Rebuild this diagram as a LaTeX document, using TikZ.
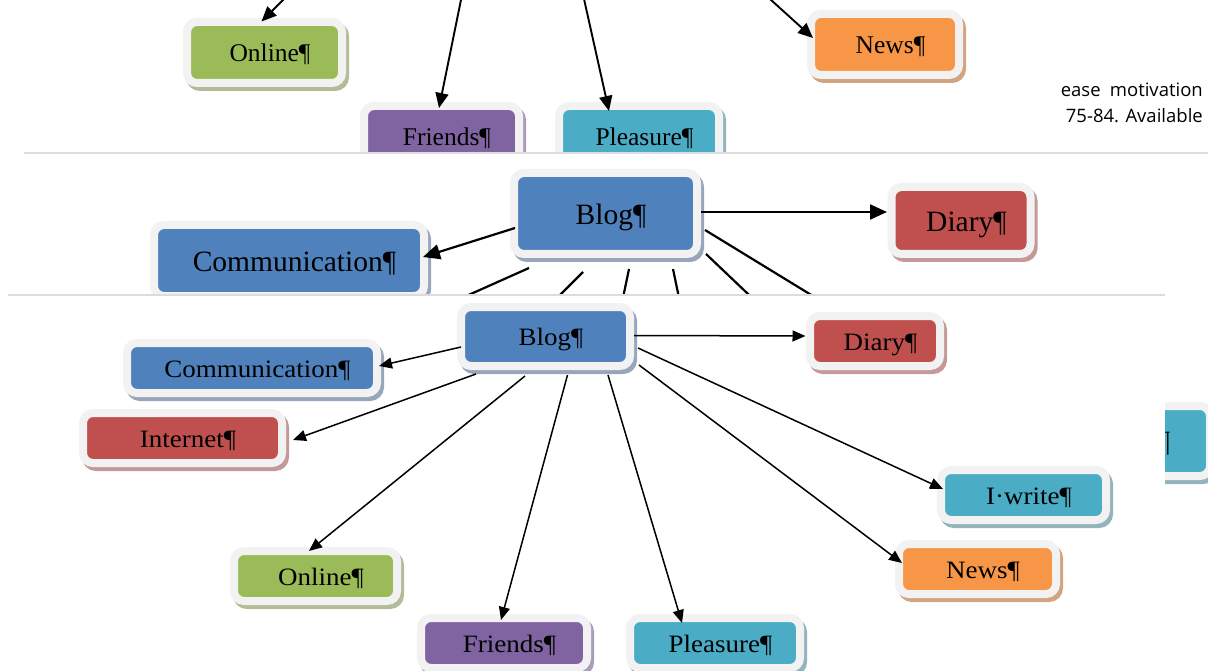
\documentclass[tikz,border=0pt]{standalone}
\usepackage{fontspec}
\setmainfont{Liberation Serif}
\newfontfamily\notefont{Open Sans}
\usetikzlibrary{arrows.meta,calc}
\definecolor{frameg}{HTML}{F2F2F2}
\definecolor{sepg}{HTML}{DCDCDC}
\definecolor{blueF}{HTML}{4F81BD}\definecolor{blueS}{HTML}{97A6BA}
\definecolor{redF}{HTML}{C0504D}\definecolor{redS}{HTML}{C49A99}
\definecolor{greenF}{HTML}{9BBB59}\definecolor{greenS}{HTML}{B2BC98}
\definecolor{purpleF}{HTML}{8064A2}\definecolor{purpleS}{HTML}{A99CB9}
\definecolor{cyanF}{HTML}{4BACC6}\definecolor{cyanS}{HTML}{93B3BD}
\definecolor{orangeF}{HTML}{F79646}\definecolor{orangeS}{HTML}{D3A482}
\newcommand\fa{\fontsize{25.5}{30}\selectfont}
\newcommand\fb{\fontsize{29.5}{34}\selectfont}
\newcommand\fc{\fontsize{25}{29}\selectfont}
\newcommand\wide[1]{\scalebox{1.08}[1]{#1}}
\tikzset{
  wbox/.style n args={4}{draw=frameg, fill=#1, line width=8pt, rounded corners=10pt,
    inner sep=0pt, minimum width=#3, minimum height=#4,
    execute at begin node={\hspace*{11pt}},
    preaction={fill=#2, draw=#2, line width=8pt, rounded corners=10pt,
      transform canvas={shift={(3pt,-4pt)}}}},
  txa/.style={font=\fa, text height=19.6pt, text depth=0.8pt},
  txb/.style={font=\fb, text height=22.6pt, text depth=1pt},
  txc/.style={font=\fc, text height=19.2pt, text depth=0.8pt},
  arra/.style={-{Triangle[length=15pt,width=13pt]}, line width=1.9pt},
  arrb/.style={-{Triangle[length=17pt,width=15pt]}, line width=2.2pt},
  lineb/.style={line width=2.2pt},
  arrc/.style={-{Triangle[length=13pt,width=11pt]}, line width=1.5pt},
  sepline/.style={draw=sepg, line width=2pt},
}
\begin{document}
\begin{tikzpicture}[x=1pt,y=-1pt]
\useasboundingbox (0,0) rectangle (1208,671);
% ---------------- band 1 ----------------
\begin{scope}
\clip (0,0) rectangle (1208,153);
\node[wbox={greenF}{greenS}{155pt}{61pt}, txa] (online1) at (264.5,52.5) {Online¶};
\node[wbox={purpleF}{purpleS}{155pt}{61pt}, txa] (friends1) at (441.5,136.5) {Friends¶};
\node[wbox={cyanF}{cyanS}{160pt}{61pt}, txa] (pleasure1) at (639,136.5) {Pleasure¶};
\node[wbox={orangeF}{orangeS}{148pt}{61pt}, txa] (news1) at (885,44.5) {News¶};
\coordinate (s1) at (293,-10);
\coordinate (s2) at (463,-10);
\coordinate (s3) at (582,-10);
\coordinate (s4) at (760,-10);
\draw[arra] (s1) -- ($(online1)+(-3,-31)$);
\draw[arra] (s2) -- ($(friends1)+(-2.5,-28.5)$);
\draw[arra] (s3) -- ($(pleasure1)+(-30,-25.5)$);
\draw[arra] (s4) -- ($(news1)+(-72,-6.5)$);
\node[anchor=east, inner sep=0pt, font=\notefont\fontsize{18.5}{22}\selectfont] (note1) at (1203,90) {\makebox[142pt][s]{ease motivation}};
\node[anchor=east, inner sep=0pt, font=\notefont\fontsize{18.5}{22}\selectfont] (note2) at (1203,116) {75-84. Available};
\end{scope}
\draw[sepline] (24,153) -- (1208,153);
% ---------------- band 2 ----------------
\begin{scope}
\clip (0,154) rectangle (1208,294);
\node[wbox={blueF}{blueS}{183pt}{81pt}, txb] (blog2) at (605.5,213.5) {Blog¶};
\node[wbox={blueF}{blueS}{270pt}{71pt}, txb] (comm2) at (289,260.5) {Communication¶};
\node[wbox={redF}{redS}{139pt}{67pt}, txb] (diary2) at (961,220.5) {Diary¶};
\draw[arrb] ($(blog2)+(95.5,-1.5)$) -- ($(diary2)+(-74,-8.5)$);
\draw[arrb] ($(blog2)+(-90.5,14.5)$) -- ($(comm2)+(134,-3.5)$);
\coordinate (e1) at (417,318);
\coordinate (e2) at (541,314);
\coordinate (e3) at (619,317);
\coordinate (e4) at (683,317);
\coordinate (e5) at (788,332);
\coordinate (e6) at (911,356);
\draw[lineb] ($(blog2)+(-76.5,54.5)$) -- (e1);
\draw[lineb] ($(blog2)+(-22.5,58.5)$) -- (e2);
\draw[lineb] ($(blog2)+(23.5,55.5)$) -- (e3);
\draw[lineb] ($(blog2)+(67.5,55.5)$) -- (e4);
\draw[lineb] ($(blog2)+(100.5,40.5)$) -- (e5);
\draw[lineb] ($(blog2)+(99.5,16.5)$) -- (e6);
\end{scope}
\draw[sepline] (8,295) -- (1165,295);
% ---------------- band 3 ----------------
\begin{scope}
\clip (0,296) rectangle (1165,671);
\node[wbox={blueF}{blueS}{169pt}{59pt}, txc] (blog3) at (545.5,336.5) {\wide{Blog¶}};
\node[wbox={blueF}{blueS}{250pt}{50pt}, txc] (comm3) at (252,368) {\wide{Communication¶}};
\node[wbox={redF}{redS}{199pt}{50pt}, txc] (internet3) at (182.5,438) {\wide{Internet¶}};
\node[wbox={redF}{redS}{130pt}{50pt}, txc] (diary3) at (875,341) {\wide{Diary¶}};
\node[wbox={cyanF}{cyanS}{165pt}{50pt}, txc] (iwrite3) at (1023.5,495) {\wide{I·write¶}};
\node[wbox={orangeF}{orangeS}{157pt}{50pt}, txc] (news3) at (977.5,569) {\wide{News¶}};
\node[wbox={greenF}{greenS}{163pt}{50pt}, txc] (online3) at (315.5,576) {\wide{Online¶}};
\node[wbox={purpleF}{purpleS}{166pt}{50pt}, txc] (friends3) at (504,643) {\wide{Friends¶}};
\node[wbox={cyanF}{cyanS}{170pt}{50pt}, txc] (pleasure3) at (715,643) {\wide{Pleasure¶}};
\draw[arrc] ($(blog3)+(88.5,-1)$) -- ($(diary3)+(-69.5,-5)$);
\draw[arrc] ($(blog3)+(-84.5,10.5)$) -- ($(comm3)+(127,-2)$);
\draw[arrc] ($(blog3)+(-69.5,37.5)$) -- ($(internet3)+(110.5,2)$);
\draw[arrc] ($(blog3)+(-20.5,39.5)$) -- ($(online3)+(-6.5,-25)$);
\draw[arrc] ($(blog3)+(22,38.5)$) -- ($(friends3)+(-3,-23)$);
\draw[arrc] ($(blog3)+(62.5,38.5)$) -- ($(pleasure3)+(-33,-20)$);
\draw[arrc] ($(blog3)+(93.5,28.5)$) -- ($(news3)+(-75.5,-6)$);
\draw[arrc] ($(blog3)+(92.5,11.5)$) -- ($(iwrite3)+(-80.5,-6)$);
\end{scope}
% ---------------- right strip ----------------
\begin{scope}
\clip (1165,296) rectangle (1208,671);
\node[wbox={cyanF}{cyanS}{184pt}{70pt}, txb] (iwrite2) at (1118,441) {I·write¶};
\end{scope}
\end{tikzpicture}
\end{document}
